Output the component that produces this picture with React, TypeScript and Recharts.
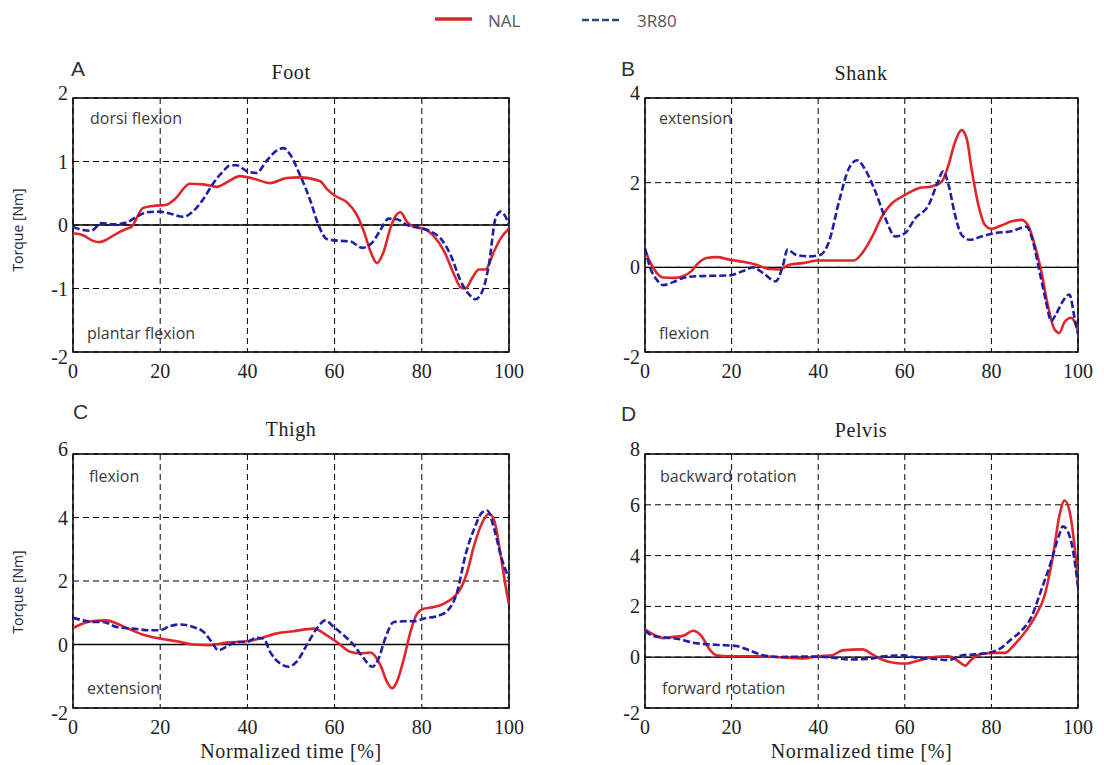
import React from "react";
import {
  LineChart,
  Line,
  XAxis,
  YAxis,
  CartesianGrid,
  ReferenceLine,
  ReferenceArea,
} from "recharts";

// ---------- DATA ----------
const xTicks = [0, 20, 40, 60, 80, 100];

// Foot
const footNalX = [0, 2.3, 4.6, 6.1, 7.7, 9.6, 12.3, 13.4, 16.1, 18.4, 21.5, 23.4, 26.8, 29.9, 33, 35.2, 38.3, 41.4, 45.2, 49, 52.1, 56.7, 58.2, 60.1, 62.8, 65.1, 66.7, 68.2, 69.7, 71.3, 72.8, 73.9, 75.1, 76.6, 78.2, 80.5, 82.8, 85.1, 87.4, 88.9, 90, 91.6, 93.1, 94.6, 96.6, 98.1, 100];
const footNal = [-0.13, -0.16, -0.25, -0.27, -0.23, -0.15, -0.06, -0.03, 0.27, 0.3, 0.32, 0.41, 0.65, 0.64, 0.6, 0.67, 0.77, 0.73, 0.66, 0.74, 0.75, 0.69, 0.57, 0.46, 0.36, 0.16, -0.1, -0.41, -0.6, -0.41, -0.05, 0.13, 0.2, 0.05, -0.03, -0.06, -0.18, -0.41, -0.78, -0.98, -1.0, -0.83, -0.7, -0.7, -0.41, -0.21, -0.06];
const foot3rX = [0, 2.3, 4.2, 6.5, 9.2, 12.3, 14.6, 16.9, 19.9, 22.2, 25.3, 27.6, 29.9, 32.1, 34.5, 36, 37.5, 39.8, 42.1, 44.4, 46.7, 48.3, 49.8, 52.1, 54.4, 56.3, 58.2, 61.3, 63.6, 66.3, 68.6, 70.5, 72.4, 74.3, 76.6, 79.7, 82, 84.3, 86.6, 88.9, 90.8, 92.3, 93.9, 95.4, 96.9, 98.1, 99.2, 100];
const foot3r = [-0.03, -0.08, -0.09, 0.03, 0.01, 0.04, 0.13, 0.2, 0.21, 0.18, 0.13, 0.22, 0.41, 0.65, 0.85, 0.94, 0.94, 0.85, 0.82, 1.01, 1.17, 1.21, 1.11, 0.78, 0.39, 0, -0.22, -0.25, -0.26, -0.36, -0.28, -0.08, 0.1, 0.09, 0, -0.05, -0.1, -0.21, -0.47, -0.88, -1.09, -1.17, -1.04, -0.62, 0.1, 0.21, 0.13, 0];

// Shank
const shankNalX = [0, 1.1, 2.7, 4.2, 6.5, 8.8, 10.7, 12.3, 14.2, 16.5, 19.6, 22.6, 25.7, 28.7, 31, 33.3, 36.4, 40.2, 44, 48.2, 50.2, 52.5, 54.7, 57, 60.1, 63.2, 66.2, 68.5, 70.1, 71.6, 73.1, 74.3, 75.4, 77, 78.5, 80, 82.3, 84.6, 86.9, 88.4, 90, 91.5, 93, 94.6, 95.7, 96.9, 98.4, 100];
const shankNal = [0.42, 0.14, -0.13, -0.24, -0.25, -0.21, -0.09, 0.1, 0.22, 0.24, 0.18, 0.13, 0.06, -0.04, -0.05, 0.06, 0.1, 0.16, 0.16, 0.16, 0.34, 0.73, 1.2, 1.51, 1.71, 1.87, 1.91, 2.02, 2.42, 2.96, 3.24, 3.04, 2.34, 1.47, 1.0, 0.91, 0.99, 1.08, 1.12, 1.0, 0.53, -0.09, -0.88, -1.47, -1.55, -1.29, -1.19, -1.5];
const shank3rX = [0, 1.1, 2.7, 4.2, 6.5, 8.8, 11.9, 15.7, 19.5, 22.6, 24.9, 27.2, 30.2, 31.8, 32.9, 34.8, 37.9, 40.6, 42.5, 44.8, 47.1, 49, 50.9, 53.2, 55.5, 57.8, 60.1, 62.4, 65.5, 67.4, 68.9, 70.1, 71.6, 73.1, 75, 77.7, 80.8, 84.6, 88.1, 89.6, 91.1, 92.6, 93.8, 94.9, 96.5, 98, 99.2, 100];
const shank3r = [0.45, 0.02, -0.29, -0.42, -0.35, -0.25, -0.21, -0.2, -0.19, -0.09, 0, -0.13, -0.33, 0.02, 0.42, 0.3, 0.26, 0.3, 0.61, 1.55, 2.34, 2.53, 2.3, 1.79, 1.16, 0.73, 0.81, 1.16, 1.47, 1.95, 2.27, 1.95, 1.24, 0.77, 0.65, 0.73, 0.81, 0.85, 0.96, 0.61, -0.09, -0.8, -1.27, -1.11, -0.8, -0.64, -1.19, -1.58];

// Thigh
const thighNalX = [0, 2.3, 4.6, 7.7, 10, 12.3, 16.1, 19.9, 23.8, 27.6, 31.4, 35.2, 39.8, 42.9, 46.7, 50.6, 55.2, 58.2, 60.5, 63.6, 65.9, 68.2, 70.5, 72, 73.2, 74.3, 75.9, 77.4, 78.9, 80.5, 82.8, 85.1, 87.4, 88.9, 90.4, 92, 93.9, 95.4, 96.6, 98.1, 99.2, 100];
const thighNal = [0.52, 0.66, 0.74, 0.76, 0.66, 0.52, 0.31, 0.19, 0.1, 0, -0.02, 0.06, 0.1, 0.19, 0.35, 0.42, 0.5, 0.29, 0.08, -0.23, -0.28, -0.25, -0.65, -1.17, -1.38, -1.17, -0.44, 0.4, 0.97, 1.13, 1.18, 1.29, 1.5, 1.76, 2.28, 3.12, 3.85, 4.12, 3.91, 2.81, 1.86, 1.26];
const thigh3rX = [0, 2.3, 4.6, 6.9, 10, 13.8, 17.6, 19.9, 22.2, 24.5, 27.6, 29.9, 31.8, 33.3, 35.2, 37.5, 39.8, 42.1, 43.7, 45.2, 47.5, 49.4, 51.3, 53.6, 55.9, 57.9, 59.8, 62.1, 64.4, 66.7, 68.6, 70.1, 71.6, 73.6, 75.9, 78.2, 80.5, 83.6, 85.8, 88.1, 90, 92, 93.9, 95, 96.6, 98.1, 100];
const thigh3r = [0.84, 0.76, 0.71, 0.71, 0.55, 0.5, 0.45, 0.45, 0.58, 0.63, 0.55, 0.4, 0.08, -0.18, -0.07, 0.08, 0.08, 0.21, 0.19, -0.23, -0.6, -0.7, -0.54, -0.02, 0.5, 0.76, 0.55, 0.29, -0.02, -0.44, -0.7, -0.44, 0.19, 0.71, 0.73, 0.73, 0.82, 0.9, 1.05, 1.65, 2.81, 3.64, 4.17, 4.22, 3.64, 2.81, 2.07];

// Pelvis
const pelvisNalX = [0, 1.9, 4.2, 6.5, 8.8, 11.1, 13, 14.9, 16.5, 19.5, 25.7, 31, 36.4, 40.2, 43.3, 45.6, 50.2, 52.5, 54.7, 57.8, 60.1, 63.2, 66.2, 70.1, 72.4, 73.9, 75.4, 77.7, 80.8, 83.1, 85.4, 87.7, 90, 92.3, 94.2, 95.7, 96.9, 98.1, 99.2, 100];
const pelvisNal = [1.1, 0.9, 0.75, 0.8, 0.84, 1.04, 0.84, 0.31, 0.08, 0.04, 0.04, 0, -0.05, 0.04, 0.08, 0.27, 0.31, 0.11, -0.09, -0.23, -0.25, -0.13, 0, 0.04, -0.16, -0.33, -0.09, 0.13, 0.17, 0.17, 0.51, 0.97, 1.57, 2.44, 3.97, 5.57, 6.17, 5.71, 4.37, 2.91];
const pelvis3rX = [0, 1.9, 5, 8, 11.1, 14.2, 17.2, 21.1, 24.1, 27.2, 31, 38.7, 44, 47.1, 51.7, 54.7, 59.5, 63.2, 67.1, 70.1, 73.1, 76.2, 79.3, 82.3, 84.6, 86.9, 89.2, 91.5, 93.8, 95.7, 96.5, 97.6, 98.8, 100];
const pelvis3r = [1.04, 0.84, 0.77, 0.71, 0.57, 0.51, 0.48, 0.44, 0.27, 0.08, 0.01, 0.03, -0.03, -0.09, -0.07, 0.03, 0.07, -0.03, -0.07, -0.11, 0.07, 0.11, 0.17, 0.37, 0.71, 1.04, 1.57, 2.64, 3.77, 4.84, 5.15, 4.97, 4.24, 2.77];

const footTicks = [-2, -1, 0, 1, 2];
const shankTicks = [-2, 0, 2, 4];
const thighTicks = [-2, 0, 2, 4, 6];
const pelvisTicks = [-2, 0, 2, 4, 6, 8];

const seriesNames = ["NAL", "3R80"];
const RED = "#e0262a";
const BLUE = "#1f1fa6";

const zip = (xs: number[], ys: number[]) => xs.map((x, i) => ({ x, y: ys[i] }));

const SERIF = "'Liberation Serif', 'DejaVu Serif', serif";
const SANS = "'Open Sans', 'Noto Sans', sans-serif";

type PanelProps = {
  plotLeft: number;
  plotTop: number;
  plotW: number;
  plotH: number;
  yTicks: number[];
  nal: { x: number; y: number }[];
  r80: { x: number; y: number }[];
  xLabel?: string;
};

const YTick = (props: any) => {
  const { x, y, payload, ymin, ymax } = props;
  let dy = 0;
  if (payload.value === ymax) dy = -5;
  if (payload.value === ymin) dy = 5;
  return (
    <text x={x} y={y + dy} textAnchor="end" dominantBaseline="central" fontFamily={SERIF} fontSize={20} fill="#222">
      {payload.value}
    </text>
  );
};

const XTick = (props: any) => {
  const { x, y, payload } = props;
  return (
    <text x={x} y={y + 17} textAnchor="middle" dominantBaseline="central" fontFamily={SERIF} fontSize={20} fill="#222">
      {payload.value}
    </text>
  );
};

function Panel({ plotLeft, plotTop, plotW, plotH, yTicks, nal, r80, xLabel }: PanelProps) {
  const padL = 70;
  const padT = 20;
  const padR = 20;
  const xAxisH = 52;
  const width = padL + plotW + padR;
  const height = padT + plotH + xAxisH + 4;
  const ymin = yTicks[0];
  const ymax = yTicks[yTicks.length - 1];
  return (
    <div style={{ position: "absolute", left: plotLeft - padL, top: plotTop - padT }}>
      <LineChart width={width} height={height} margin={{ top: padT, right: padR, bottom: 4, left: 10 }}>
        <CartesianGrid stroke="#000" strokeDasharray="6 4" strokeWidth={1} />
        <XAxis
          dataKey="x"
          type="number"
          domain={[0, 100]}
          ticks={xTicks}
          allowDataOverflow
          axisLine={false}
          tickLine={false}
          tickSize={0}
          height={xAxisH}
          tick={<XTick />}
          label={
            xLabel
              ? { value: xLabel, position: "insideBottom", offset: 2, style: { fontFamily: SERIF, fontSize: 20, fill: "#222", letterSpacing: 0.6 } }
              : undefined
          }
        />
        <YAxis
          type="number"
          domain={[ymin, ymax]}
          ticks={yTicks}
          allowDataOverflow
          axisLine={false}
          tickLine={false}
          tickSize={0}
          tickMargin={5}
          width={60}
          tick={<YTick ymin={ymin} ymax={ymax} />}
        />
        <ReferenceLine y={0} stroke="#000" strokeWidth={1.3} />
        <Line
          data={nal}
          dataKey="y"
          name={seriesNames[0]}
          type="monotone"
          stroke={RED}
          strokeWidth={2.6}
          dot={false}
          isAnimationActive={false}
        />
        <Line
          data={r80}
          dataKey="y"
          name={seriesNames[1]}
          type="monotone"
          stroke={BLUE}
          strokeWidth={2.6}
          strokeDasharray="7 3"
          dot={false}
          isAnimationActive={false}
        />
        <ReferenceArea x1={0} x2={100} y1={ymin} y2={ymax} fill="none" fillOpacity={0} stroke="#000" strokeWidth={1.5} ifOverflow="visible" />
      </LineChart>
    </div>
  );
}

const abs = (left: number, top: number, extra: React.CSSProperties = {}): React.CSSProperties => ({
  position: "absolute",
  left,
  top,
  lineHeight: 1,
  whiteSpace: "nowrap",
  ...extra,
});

function Note({ x, y, text }: { x: number; y: number; text: string }) {
  return (
    <div style={abs(x, y, { transform: "translateY(-50%)", fontFamily: SANS, fontSize: 16, color: "#3a3a3a" })}>{text}</div>
  );
}

function Title({ cx, cy, text }: { cx: number; cy: number; text: string }) {
  return (
    <div style={abs(cx, cy, { transform: "translate(-50%, -50%)", fontFamily: SERIF, fontSize: 20, color: "#222", letterSpacing: 0.6 })}>
      {text}
    </div>
  );
}

function Letter({ x, y, text }: { x: number; y: number; text: string }) {
  return (
    <div style={abs(x, y, { transform: "translateY(-50%)", fontFamily: "'Liberation Sans', Arial, sans-serif", fontSize: 21, color: "#333" })}>
      {text}
    </div>
  );
}

function YLabel({ cx, cy, text }: { cx: number; cy: number; text: string }) {
  return (
    <div
      style={abs(cx, cy, {
        transform: "translate(-50%, -50%) rotate(-90deg)",
        fontFamily: SANS,
        fontSize: 14,
        color: "#223",
      })}
    >
      {text}
    </div>
  );
}

function LegendBox() {
  return (
    <>
      <svg style={{ position: "absolute", left: 432, top: 12 }} width={44} height={16}>
        <line x1={3} y1={7} x2={40} y2={7} stroke={RED} strokeWidth={3.5} />
      </svg>
      <div style={abs(488, 20, { transform: "translateY(-50%)", fontFamily: SANS, fontSize: 17, color: "#555" })}>{seriesNames[0]}</div>
      <svg style={{ position: "absolute", left: 579, top: 12 }} width={44} height={16}>
        <line x1={3} y1={8} x2={40} y2={8} stroke={"#2a4a7a"} strokeWidth={2.5} strokeDasharray="7 3" />
      </svg>
      <div style={abs(637, 20, { transform: "translateY(-50%)", fontFamily: SANS, fontSize: 17, color: "#555" })}>{seriesNames[1]}</div>
    </>
  );
}

export default function App() {
  return (
    <div style={{ position: "absolute", left: 0, top: 0, width: 1104, height: 765, background: "#fff", overflow: "hidden" }}>
      <LegendBox />

      <Letter x={71} y={68} text="A" />
      <Letter x={621} y={68} text="B" />
      <Letter x={73} y={411} text="C" />
      <Letter x={621} y={413} text="D" />

      <Title cx={291} cy={72} text="Foot" />
      <Title cx={861} cy={73} text="Shank" />
      <Title cx={291} cy={429} text="Thigh" />
      <Title cx={861} cy={430} text="Pelvis" />

      <YLabel cx={18} cy={230} text="Torque [Nm]" />
      <YLabel cx={18} cy={592} text="Torque [Nm]" />

      <Panel plotLeft={73} plotTop={98} plotW={436} plotH={254} yTicks={footTicks} nal={zip(footNalX, footNal)} r80={zip(foot3rX, foot3r)} />
      <Panel plotLeft={645} plotTop={98} plotW={433} plotH={254} yTicks={shankTicks} nal={zip(shankNalX, shankNal)} r80={zip(shank3rX, shank3r)} />
      <Panel
        plotLeft={73}
        plotTop={454}
        plotW={436}
        plotH={254}
        yTicks={thighTicks}
        nal={zip(thighNalX, thighNal)}
        r80={zip(thigh3rX, thigh3r)}
        xLabel="Normalized time [%]"
      />
      <Panel
        plotLeft={645}
        plotTop={454}
        plotW={433}
        plotH={254}
        yTicks={pelvisTicks}
        nal={zip(pelvisNalX, pelvisNal)}
        r80={zip(pelvis3rX, pelvis3r)}
        xLabel="Normalized time [%]"
      />

      <Note x={90} y={118} text="dorsi flexion" />
      <Note x={87} y={333} text="plantar flexion" />
      <Note x={659} y={118} text="extension" />
      <Note x={659} y={333} text="flexion" />
      <Note x={89} y={476} text="flexion" />
      <Note x={87} y={688} text="extension" />
      <Note x={660} y={476} text="backward rotation" />
      <Note x={662} y={688} text="forward rotation" />
    </div>
  );
}
